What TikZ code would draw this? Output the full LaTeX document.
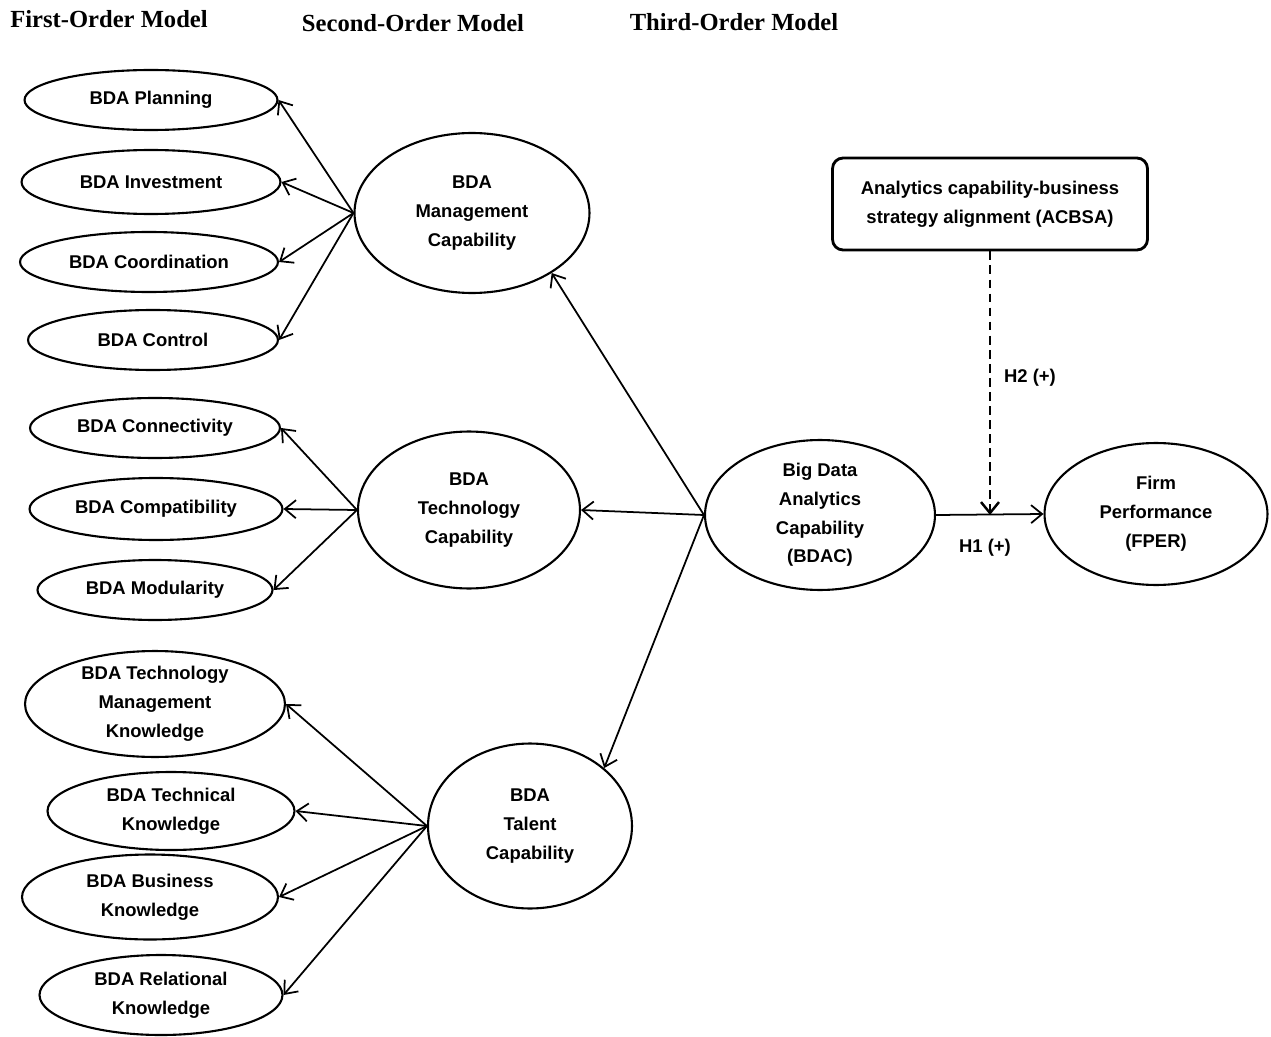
\documentclass[tikz,border=0pt]{standalone}
\usepackage{fontspec}
\setmainfont{Liberation Serif}
\newfontfamily\figsans{Liberation Sans}
\usetikzlibrary{positioning,shapes.geometric,arrows.meta}

\tikzset{
    latent/.style={ellipse, draw, line width=1.2pt, inner sep=0pt, align=center,
        font=\figsans\bfseries\fontsize{10.5}{16.4}\selectfont},
    moderator/.style={draw, rounded corners=6pt, line width=1.6pt, inner sep=0pt, align=center,
        font=\figsans\bfseries\fontsize{10.5}{16.4}\selectfont},
    heading/.style={font=\bfseries\fontsize{14}{16}\selectfont},
    hyp/.style={font=\figsans\bfseries\fontsize{10.5}{12}\selectfont},
    load/.style={-{Straight Barb[length=2.2mm,width=3.6mm]}, line width=1pt},
}

\begin{document}
\begin{tikzpicture}[x=0.02cm, y=-0.02cm]
    \useasboundingbox (0,0) rectangle (1271,1037);

    % column titles
    \node[heading] (first) at (109,19) {First-Order Model};
    \node[heading] (second) at (413,23) {Second-Order Model};
    \node[heading] (third) at (734,22) {Third-Order Model};

    % first-order constructs
    \node[latent, minimum width=5.06cm, minimum height=1.2cm] (planning) at (151,100) {BDA Planning};
    \node[latent, minimum width=5.18cm, minimum height=1.28cm] (investment) at (151,182) {BDA Investment};
    \node[latent, minimum width=5.16cm, minimum height=1.2cm] (coordination) at (149,262) {BDA Coordination};
    \node[latent, minimum width=5.0cm, minimum height=1.2cm] (control) at (153,340) {BDA Control};
    \node[latent, minimum width=5.0cm, minimum height=1.2cm] (connectivity) at (155,428) {BDA Connectivity};
    \node[latent, minimum width=5.06cm, minimum height=1.24cm] (compatibility) at (156,509) {BDA Compatibility};
    \node[latent, minimum width=4.7cm, minimum height=1.2cm] (modularity) at (155,590) {BDA Modularity};
    \node[latent, minimum width=5.2cm, minimum height=2.1cm] (techmgmt) at (155,704) {BDA Technology\\Management\\Knowledge};
    \node[latent, minimum width=4.94cm, minimum height=1.56cm] (technical) at (171,811) {BDA Technical\\Knowledge};
    \node[latent, minimum width=5.12cm, minimum height=1.7cm] (business) at (150,897) {BDA Business\\Knowledge};
    \node[latent, minimum width=4.86cm, minimum height=1.6cm] (relational) at (161,995) {BDA Relational\\Knowledge};

    % second-order constructs
    \node[latent, minimum width=4.7cm, minimum height=3.2cm] (mgmt) at (472,213) {BDA\\Management\\Capability};
    \node[latent, minimum width=4.44cm, minimum height=3.14cm] (tech) at (469,510) {BDA\\Technology\\Capability};
    \node[latent, minimum width=4.08cm, minimum height=3.3cm] (talent) at (530,826) {BDA\\Talent\\Capability};

    % third-order construct, outcome and moderator
    \node[latent, minimum width=4.6cm, minimum height=3.0cm] (bdac) at (820,515) {Big Data\\Analytics\\Capability\\(BDAC)};
    \node[latent, minimum width=4.46cm, minimum height=2.84cm] (fper) at (1156,514) {Firm\\Performance\\(FPER)};
    \node[moderator, minimum width=6.3cm, minimum height=1.84cm] (acbsa) at (990,204) {Analytics capability-business\\strategy alignment (ACBSA)};

    % loadings
    \foreach \n in {planning,investment,coordination,control}
        \draw[load] (mgmt.west) -- (\n.east);
    \foreach \n in {connectivity,compatibility,modularity}
        \draw[load] (tech.west) -- (\n.east);
    \foreach \n in {techmgmt,technical,business,relational}
        \draw[load] (talent.west) -- (\n.east);
    \draw[load] (bdac.west) -- (mgmt.-37);
    \draw[load] (bdac.west) -- (tech.east);
    \draw[load] (bdac.west) -- (talent.38);

    % hypotheses
    \draw[load] (bdac.east) -- (fper.west);
    \coordinate (modpoint) at (acbsa.south |- bdac.east);
    \draw[load, line width=1.4pt, dash pattern=on 5pt off 3pt] (acbsa.south) -- (modpoint);
    \node[hyp] (h1) at (985,548) {H1 (+)};
    \node[hyp] (h2) at (1030,378) {H2 (+)};
\end{tikzpicture}
\end{document}
